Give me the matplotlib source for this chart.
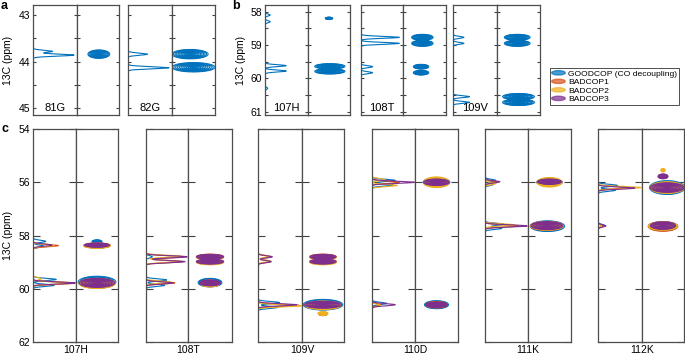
import numpy as np
import matplotlib
matplotlib.use("Agg")
import matplotlib.pyplot as plt
from matplotlib.patches import Ellipse
from matplotlib.legend_handler import HandlerPatch

plt.rcParams['font.family'] = ['Liberation Sans', 'DejaVu Sans']

# ---- data ----
colors = ['#0072BD', '#D95319', '#EDB120', '#7E2F8E']
exp_names = ['GOODCOP (CO decoupling)', 'BADCOP1', 'BADCOP2', 'BADCOP3']

# 1D traces: (ppm, relative height); 2D peaks: (ppm, x centre, x half width, ppm half width)
a_res = ['81G', '82G']
a_trace = {'81G': [(43.78, 0.45), (43.86, 0.95)],
           '82G': [(43.84, 0.45), (44.13, 0.95)]}
a_cross = {'81G': [(43.84, 0.52, 0.26, 0.09)],
           '82G': [(43.84, 0.42, 0.42, 0.1), (44.12, 0.5, 0.5, 0.1)]}

b_res = ['107H', '108T', '109V']
b_trace = {'107H': [(58.1, 0.12), (58.3, 0.12), (59.62, 0.5), (59.78, 0.5), (60.3, 0.06)],
           '108T': [(58.77, 0.93), (58.95, 0.93), (59.65, 0.28), (59.83, 0.28)],
           '109V': [(58.77, 0.25), (58.95, 0.25), (60.55, 0.38), (60.72, 0.38)]}
b_cross = {'107H': [(58.2, 0.5, 0.09, 0.035), (59.64, 0.52, 0.36, 0.08), (59.79, 0.52, 0.36, 0.08)],
           '108T': [(58.77, 0.45, 0.25, 0.09), (58.95, 0.45, 0.25, 0.09),
                    (59.65, 0.42, 0.18, 0.07), (59.83, 0.42, 0.18, 0.07)],
           '109V': [(58.77, 0.47, 0.3, 0.09), (58.95, 0.47, 0.3, 0.09),
                    (60.55, 0.5, 0.37, 0.095), (60.72, 0.5, 0.37, 0.095)]}

c_res = ['107H', '108T', '109V', '110D', '111K', '112K']
c_trace_good = {'107H': [(58.22, 0.3), (58.4, 0.25), (59.65, 0.55), (59.87, 0.5)],
                '108T': [(58.8, 0.15), (59.67, 0.5), (59.87, 0.45)],
                '109V': [(60.52, 0.5), (60.7, 0.45)],
                '110D': [(55.93, 0.55), (56.1, 0.5), (60.55, 0.35)],
                '111K': [(55.93, 0.25), (56.08, 0.2), (57.58, 0.45), (57.73, 0.4)],
                '112K': [(56.12, 0.45), (56.3, 0.4), (57.62, 0.15)]}
c_trace_bad1 = {'107H': [(58.38, 0.6), (59.79, 1.0)],
                '108T': [(58.8, 0.95), (58.98, 0.9), (59.78, 0.7)],
                '109V': [(58.8, 0.3), (58.98, 0.3), (60.62, 0.95)],
                '110D': [(56.0, 0.65), (60.6, 0.2)],
                '111K': [(56.0, 0.3), (57.64, 0.8)],
                '112K': [(56.2, 0.7), (57.65, 0.12)]}
c_trace_bad2 = {'107H': [(58.37, 0.5), (59.62, 0.2), (59.78, 0.95)],
                '108T': [(58.78, 0.85), (58.97, 0.8), (59.75, 0.6)],
                '109V': [(58.78, 0.25), (58.96, 0.28), (60.64, 1.0)],
                '110D': [(55.9, 0.3), (56.12, 0.6), (60.62, 0.2)],
                '111K': [(56.05, 0.25), (57.6, 0.7)],
                '112K': [(56.2, 1.0), (57.64, 0.08)]}
c_trace_bad3 = {'107H': [(58.36, 0.45), (59.78, 1.0)],
                '108T': [(58.8, 1.0), (58.98, 0.95), (59.78, 0.65)],
                '109V': [(58.8, 0.33), (58.98, 0.3), (60.6, 0.9)],
                '110D': [(56.0, 1.0), (60.6, 0.55)],
                '111K': [(55.98, 0.35), (57.64, 1.0)],
                '112K': [(56.22, 0.85), (57.64, 0.18)]}

c_cross_good = {'107H': [(58.23, 0.5, 0.12, 0.065), (58.38, 0.5, 0.3, 0.09), (59.75, 0.5, 0.45, 0.22)],
                '108T': [(59.77, 0.5, 0.27, 0.16)],
                '109V': [(60.6, 0.5, 0.47, 0.2)],
                '110D': [(56.0, 0.5, 0.31, 0.17), (60.6, 0.5, 0.28, 0.15)],
                '111K': [(56.0, 0.5, 0.3, 0.12), (57.65, 0.45, 0.4, 0.2)],
                '112K': [(56.2, 0.6, 0.42, 0.26), (57.65, 0.5, 0.35, 0.17)]}
c_cross_bad1 = {'107H': [(58.38, 0.5, 0.32, 0.09), (59.8, 0.5, 0.42, 0.18)],
                '108T': [(58.8, 0.5, 0.31, 0.1), (58.99, 0.5, 0.31, 0.1), (59.8, 0.5, 0.22, 0.12)],
                '109V': [(58.8, 0.5, 0.32, 0.1), (58.98, 0.5, 0.32, 0.1),
                         (60.62, 0.5, 0.42, 0.14), (60.95, 0.5, 0.1, 0.06)],
                '110D': [(56.0, 0.5, 0.3, 0.16), (60.6, 0.5, 0.25, 0.12)],
                '111K': [(56.0, 0.5, 0.29, 0.14), (57.64, 0.44, 0.38, 0.17)],
                '112K': [(56.2, 0.6, 0.4, 0.2), (57.66, 0.5, 0.35, 0.18)]}
c_cross_bad2 = {'107H': [(58.38, 0.5, 0.32, 0.1), (59.8, 0.5, 0.43, 0.19)],
                '108T': [(58.82, 0.5, 0.31, 0.1), (59.0, 0.5, 0.31, 0.1), (59.8, 0.5, 0.22, 0.13)],
                '109V': [(58.82, 0.5, 0.32, 0.1), (59.0, 0.5, 0.32, 0.1),
                         (60.62, 0.5, 0.43, 0.16), (60.93, 0.5, 0.12, 0.07)],
                '110D': [(56.0, 0.5, 0.3, 0.2)],
                '111K': [(56.0, 0.5, 0.29, 0.18), (57.64, 0.44, 0.38, 0.16)],
                '112K': [(55.55, 0.5, 0.05, 0.06), (56.2, 0.6, 0.4, 0.22), (57.65, 0.5, 0.35, 0.15)]}
c_cross_bad3 = {'107H': [(58.36, 0.5, 0.3, 0.08), (59.78, 0.5, 0.42, 0.17)],
                '108T': [(58.8, 0.5, 0.31, 0.09), (58.98, 0.5, 0.31, 0.09), (59.78, 0.5, 0.24, 0.11)],
                '109V': [(58.8, 0.5, 0.31, 0.09), (58.98, 0.5, 0.31, 0.09), (60.6, 0.5, 0.44, 0.13)],
                '110D': [(56.0, 0.5, 0.3, 0.12), (60.6, 0.5, 0.25, 0.1)],
                '111K': [(55.98, 0.5, 0.28, 0.1), (57.63, 0.44, 0.37, 0.15)],
                '112K': [(55.78, 0.5, 0.12, 0.09), (56.2, 0.6, 0.4, 0.18), (57.63, 0.5, 0.3, 0.14)]}

W, H = 685, 355
fig = plt.figure(figsize=(W / 100, H / 100), dpi=100)


def px_axes(l, r, t, b):
    return fig.add_axes([l / W, 1 - b / H, (r - l) / W, (b - t) / H])


def trace(ax, peaks, ylim, color, sig):
    y = np.linspace(ylim[0], ylim[1], 4000)
    x = np.zeros_like(y)
    for p, h in peaks:
        x += h * np.exp(-0.5 * ((y - p) / sig) ** 2)
    ax.plot(x, y, color=color, lw=0.8)


def cross(ax, peaks, ylim, color):
    xs = np.linspace(0, 1, 240)
    ys = np.linspace(ylim[0], ylim[1], 1400)
    X, Y = np.meshgrid(xs, ys)
    Z = np.zeros_like(X)
    for p, xc, xw, yw in peaks:
        Z = np.maximum(Z, np.exp(-(((X - xc) / xw) ** 2 + ((Y - p) / yw) ** 2)))
    levels = np.exp(-np.linspace(1, 0.08, 12) ** 2)
    ax.contour(X, Y, Z, levels=levels, colors=color, linewidths=0.75)


def box(l, d, r, t, b, ylim, yticks, ylabels, traces, crosses, sig, ticklen, labels):
    ax1 = px_axes(l, d, t, b)
    ax2 = px_axes(d, r, t, b)
    for tr, col in traces:
        trace(ax1, tr, ylim, col, sig)
    for cr, col in crosses:
        cross(ax2, cr, ylim, col)
    ax1.set_xlim(-0.005, 1.02)
    ax2.set_xlim(0, 1)
    for ax in (ax1, ax2):
        ax.set_ylim(ylim[1], ylim[0])
        ax.set_xticks([])
        ax.set_yticks(yticks)
        ax.tick_params(axis='y', direction='in', left=True, right=True,
                       length=ticklen, width=0.8, color='0.25', labelsize=7.5, pad=2)
        for s in ax.spines.values():
            s.set_color('0.3')
            s.set_linewidth(0.9)
        ax.set_yticklabels(ylabels if (labels and ax is ax1) else [])
    return ax1, ax2


# ---- panel a ----
a_left = [(33, 77, 119), (128, 172, 215)]
a_ylim = (42.79, 45.14)
a_ticks = [43, 43.5, 44, 44.5, 45]
a_lab = ['43', '', '44', '', '45']
for i, (res, (l, d, r)) in enumerate(zip(a_res, a_left)):
    ax1, ax2 = box(l, d, r, 5, 115, a_ylim, a_ticks, a_lab,
                   [(a_trace[res], colors[0])], [(a_cross[res], colors[0])],
                   0.022, 2, i == 0)
    ax1.text(0.5, 0.015, res, transform=ax1.transAxes, ha='center', va='bottom', fontsize=8)

# ---- panel b ----
b_left = [(265, 308, 350), (361, 403, 446), (453, 497, 540)]
b_ylim = (57.8, 61.1)
b_ticks = [58, 58.5, 59, 59.5, 60, 60.5, 61]
b_lab = ['58', '', '59', '', '60', '', '61']
for i, (res, (l, d, r)) in enumerate(zip(b_res, b_left)):
    ax1, ax2 = box(l, d, r, 5, 115, b_ylim, b_ticks, b_lab,
                   [(b_trace[res], colors[0])], [(b_cross[res], colors[0])],
                   0.028, 2, i == 0)
    ax1.text(0.5, 0.015, res, transform=ax1.transAxes, ha='center', va='bottom', fontsize=8)

# ---- panel c ----
c_left = [(33, 76, 118), (146, 188, 232), (258, 302, 344),
          (372, 415, 458), (485, 528, 571), (598, 642, 684)]
c_ylim = (54, 62)
c_ticks = [54, 56, 58, 60, 62]
c_traces = [c_trace_good, c_trace_bad1, c_trace_bad2, c_trace_bad3]
c_crosses = [c_cross_good, c_cross_bad1, c_cross_bad2, c_cross_bad3]
for i, (res, (l, d, r)) in enumerate(zip(c_res, c_left)):
    ax1, ax2 = box(l, d, r, 129, 342, c_ylim, c_ticks, [str(v) for v in c_ticks],
                   [(tr[res], col) for tr, col in zip(c_traces, colors)],
                   [(cr[res], col) for cr, col in zip(c_crosses, colors)],
                   0.04, 5, i == 0)
    fig.text(d / W, 1 - 350 / H, res, ha='center', va='center', fontsize=7.5)

# labels
fig.text(3 / W, 1 - 60 / H, '13C (ppm)', rotation=90, ha='left', va='center', fontsize=7.5)
fig.text(236 / W, 1 - 60 / H, '13C (ppm)', rotation=90, ha='left', va='center', fontsize=7.5)
fig.text(3 / W, 1 - 235 / H, '13C (ppm)', rotation=90, ha='left', va='center', fontsize=7.5)
fig.text(1 / W, 1 - 6 / H, 'a', fontsize=9, fontweight='bold', va='center')
fig.text(232 / W, 1 - 6 / H, 'b', fontsize=9, fontweight='bold', va='center')
fig.text(2 / W, 1 - 129 / H, 'c', fontsize=9, fontweight='bold', va='center')


# legend
def make_ellipse(legend, orig_handle, xdescent, ydescent, width, height, fontsize):
    return Ellipse((width / 2 - xdescent, height / 2 - ydescent), width, height * 0.8)


handles = [Ellipse((0, 0), 1, 1, facecolor=c, edgecolor=c, alpha=0.7) for c in colors]
leg = fig.legend(handles, exp_names, handler_map={Ellipse: HandlerPatch(patch_func=make_ellipse)},
                 loc='upper right', bbox_to_anchor=(679 / W, 1 - 68 / H), borderaxespad=0,
                 fontsize=6.1, handlelength=1.6, handleheight=0.6, handletextpad=0.3,
                 labelspacing=0.1, borderpad=0.25, fancybox=False, framealpha=1)
leg.get_frame().set_edgecolor('0.2')
leg.get_frame().set_linewidth(0.6)

fig.savefig('out.png', dpi=100)
